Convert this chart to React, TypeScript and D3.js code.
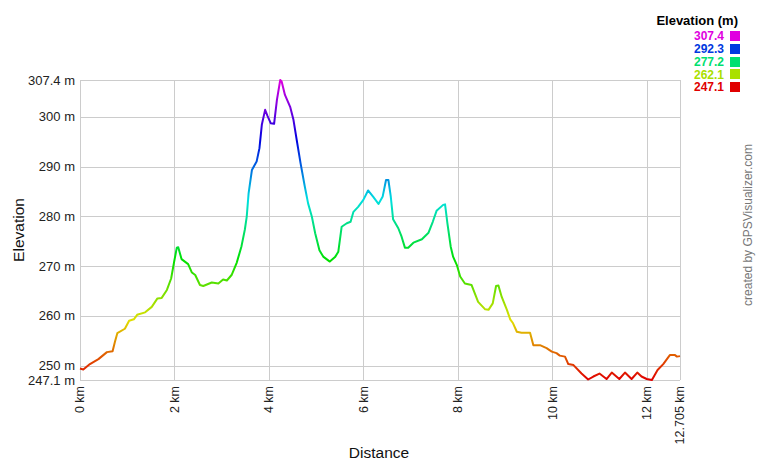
import { useRef, useEffect } from 'react'
import * as d3 from 'd3'

const WIDTH = 760
const HEIGHT = 460
const MARGIN = { top: 80, right: 80, bottom: 80, left: 80 }

const MIN_ELEV = 247.1
const MAX_ELEV = 307.4
const TOTAL_KM = 12.705

// distance (km) along track
const DIST = [
  0, 0.07, 0.21, 0.39, 0.57, 0.69, 0.74, 0.79, 0.95, 1.04, 1.14, 1.21, 1.38, 1.52, 1.64, 1.73,
  1.84, 1.93, 1.99, 2.05, 2.08, 2.15, 2.29, 2.37, 2.44, 2.54, 2.61, 2.79, 2.93, 3.03, 3.11,
  3.21, 3.32, 3.42, 3.49, 3.53, 3.57, 3.64, 3.74, 3.8, 3.85, 3.92, 3.97, 4.04, 4.11, 4.17,
  4.24, 4.27, 4.34, 4.45, 4.52, 4.6, 4.67, 4.76, 4.83, 4.91, 4.98, 5.07, 5.15, 5.29, 5.4,
  5.47, 5.54, 5.65, 5.73, 5.79, 5.89, 6.0, 6.1, 6.21, 6.32, 6.41, 6.48, 6.53, 6.58, 6.63,
  6.74, 6.81, 6.88, 6.95, 7.06, 7.24, 7.38, 7.47, 7.55, 7.69, 7.73, 7.78, 7.85, 7.9, 7.98,
  8.05, 8.15, 8.29, 8.36, 8.43, 8.58, 8.65, 8.74, 8.81, 8.86, 8.93, 9.04, 9.11, 9.17, 9.25,
  9.35, 9.53, 9.6, 9.74, 9.88, 9.99, 10.09, 10.16, 10.27, 10.34, 10.45, 10.62, 10.76, 10.87,
  11.0, 11.15, 11.26, 11.42, 11.54, 11.68, 11.8, 11.89, 12.0, 12.11, 12.23, 12.35, 12.49,
  12.6, 12.64, 12.705,
]

// elevation (m)
const ELEV = [
  249.4, 249.2, 250.3, 251.3, 252.7, 252.9, 254.8, 256.5, 257.4, 259.0, 259.3, 260.2, 260.7,
  261.8, 263.5, 263.6, 265.2, 267.5, 270.7, 273.7, 273.8, 271.4, 270.4, 268.7, 268.2, 266.2,
  266.0, 266.7, 266.5, 267.3, 267.1, 268.2, 270.7, 274.0, 277.3, 279.9, 284.6, 289.3, 291.0,
  293.7, 298.4, 301.4, 300.2, 298.7, 298.6, 303.4, 307.4, 307.1, 304.4, 302.0, 299.4, 294.7,
  290.7, 286.0, 282.6, 279.9, 276.6, 273.2, 271.9, 270.9, 271.8, 272.9, 277.9, 278.6, 278.9,
  280.9, 281.9, 283.3, 285.2, 283.9, 282.5, 284.0, 287.3, 287.3, 284.0, 279.4, 277.6, 275.9,
  273.7, 273.7, 274.7, 275.4, 276.7, 278.9, 281.1, 282.3, 282.4, 278.6, 273.9, 271.9, 270.2,
  267.9, 266.5, 266.2, 264.5, 262.8, 261.3, 261.2, 262.5, 266.0, 266.1, 263.8, 261.2, 259.3,
  258.5, 256.8, 256.6, 256.6, 254.1, 254.1, 253.5, 252.8, 252.5, 252.0, 251.8, 250.3, 250.1,
  248.4, 247.2, 247.8, 248.4, 247.3, 248.6, 247.3, 248.6, 247.3, 248.6, 247.8, 247.3, 247.1,
  249.1, 250.3, 252.1, 252.1, 251.8, 251.9,
]

const X_TICKS = [0, 2, 4, 6, 8, 10, 12, TOTAL_KM]
const X_TICK_LABELS = ['0 km', '2 km', '4 km', '6 km', '8 km', '10 km', '12 km', '12.705 km']
const Y_TICKS = [MIN_ELEV, 250, 260, 270, 280, 290, 300, MAX_ELEV]
const Y_TICK_LABELS = ['247.1 m', '250 m', '260 m', '270 m', '280 m', '290 m', '300 m', '307.4 m']
const LEGEND_VALUES = [307.4, 292.3, 277.2, 262.1, 247.1]

const FONT = 'Arial, "Liberation Sans", Helvetica, sans-serif'

// hue runs red (low) -> magenta (high)
function elevColor(v: number) {
  const t = (v - MIN_ELEV) / (MAX_ELEV - MIN_ELEV)
  return d3.hsl(t * 300, 1, 0.44).formatHex()
}

export default function App() {
  const svgRef = useRef<SVGSVGElement>(null)

  useEffect(() => {
    if (!svgRef.current) return
    const el = d3.select(svgRef.current)
    el.selectAll('*').remove()

    const innerW = WIDTH - MARGIN.left - MARGIN.right
    const innerH = HEIGHT - MARGIN.top - MARGIN.bottom

    const x = d3.scaleLinear().domain([0, TOTAL_KM]).range([MARGIN.left, MARGIN.left + innerW])
    const y = d3.scaleLinear().domain([MIN_ELEV, MAX_ELEV]).range([MARGIN.top + innerH, MARGIN.top])

    // gradient by elevation
    const defs = el.append('defs')
    const grad = defs.append('linearGradient')
      .attr('id', 'elevGrad')
      .attr('gradientUnits', 'userSpaceOnUse')
      .attr('x1', 0).attr('x2', 0)
      .attr('y1', y(MIN_ELEV)).attr('y2', y(MAX_ELEV))
    d3.range(0, 11).forEach((i) => {
      const v = MIN_ELEV + (i / 10) * (MAX_ELEV - MIN_ELEV)
      grad.append('stop').attr('offset', `${i * 10}%`).attr('stop-color', elevColor(v))
    })

    // gridlines
    const grid = el.append('g').attr('stroke', '#cccccc').attr('stroke-width', 1).attr('shape-rendering', 'crispEdges')
    X_TICKS.forEach((t) => {
      grid.append('line')
        .attr('x1', Math.round(x(t)) + 0.5).attr('x2', Math.round(x(t)) + 0.5)
        .attr('y1', y(MAX_ELEV)).attr('y2', y(MIN_ELEV))
    })
    Y_TICKS.forEach((t) => {
      grid.append('line')
        .attr('x1', x(0)).attr('x2', x(TOTAL_KM))
        .attr('y1', Math.round(y(t)) + 0.5).attr('y2', Math.round(y(t)) + 0.5)
    })

    // profile line
    const pts = DIST.map((d, i) => [d, ELEV[i]] as [number, number])
    el.append('path')
      .datum(pts)
      .attr('fill', 'none')
      .attr('stroke', 'url(#elevGrad)')
      .attr('stroke-width', 2)
      .attr('stroke-linejoin', 'round')
      .attr('d', d3.line<[number, number]>().x((d) => x(d[0])).y((d) => y(d[1])))

    // y tick labels
    Y_TICKS.forEach((t, i) => {
      el.append('text')
        .attr('x', MARGIN.left - 5)
        .attr('y', y(t))
        .attr('dy', '0.35em')
        .attr('text-anchor', 'end')
        .attr('font-family', FONT).attr('font-size', 13).attr('fill', '#222')
        .text(Y_TICK_LABELS[i])
    })

    // x tick labels (rotated)
    X_TICKS.forEach((t, i) => {
      el.append('text')
        .attr('transform', `translate(${x(t)},${y(MIN_ELEV) + 6}) rotate(-90)`)
        .attr('dy', '0.35em')
        .attr('text-anchor', 'end')
        .attr('font-family', FONT).attr('font-size', 12.5).attr('fill', '#222')
        .text(X_TICK_LABELS[i])
    })

    // axis titles
    el.append('text')
      .attr('x', (x(0) + x(TOTAL_KM)) / 2 - 1).attr('y', 458)
      .attr('text-anchor', 'middle')
      .attr('font-family', FONT).attr('font-size', 15.5).attr('fill', '#111')
      .text('Distance')
    el.append('text')
      .attr('transform', `translate(19,${(y(MIN_ELEV) + y(MAX_ELEV)) / 2}) rotate(-90)`)
      .attr('dy', '0.35em')
      .attr('text-anchor', 'middle')
      .attr('font-family', FONT).attr('font-size', 15.5).attr('fill', '#111')
      .text('Elevation')

    // legend
    const lg = el.append('g')
    lg.append('text')
      .attr('x', 738).attr('y', 25)
      .attr('text-anchor', 'end')
      .attr('font-family', FONT).attr('font-size', 13).attr('font-weight', 'bold').attr('fill', '#000')
      .text('Elevation (m)')
    LEGEND_VALUES.forEach((v, i) => {
      const cy = 36 + i * 12.75
      lg.append('rect')
        .attr('x', 730).attr('y', Math.round(cy - 5))
        .attr('width', 10).attr('height', 10)
        .attr('fill', elevColor(v))
      lg.append('text')
        .attr('x', 724).attr('y', cy)
        .attr('dy', '0.36em')
        .attr('text-anchor', 'end')
        .attr('font-family', FONT).attr('font-size', 12).attr('font-weight', 'bold').attr('fill', elevColor(v))
        .text(v.toFixed(1))
    })

    // credit
    el.append('text')
      .attr('transform', `translate(752,${225}) rotate(-90)`)
      .attr('text-anchor', 'middle')
      .attr('font-family', FONT).attr('font-size', 12).attr('fill', '#777')
      .text('created by GPSVisualizer.com')
  }, [])

  return (
    <svg
      ref={svgRef}
      width={WIDTH}
      height={HEIGHT}
      style={{ position: 'absolute', left: 0, top: 0, background: '#fff' }}
    />
  )
}
